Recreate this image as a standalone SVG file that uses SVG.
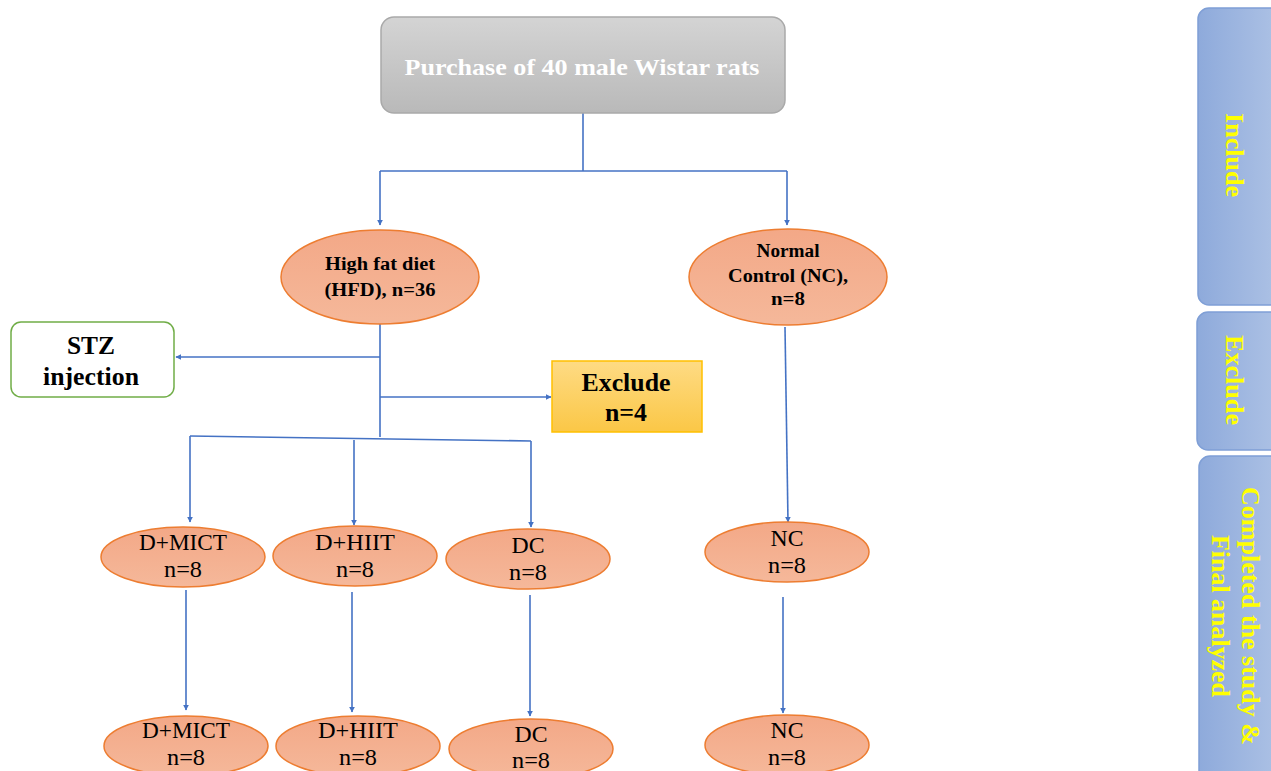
<svg xmlns="http://www.w3.org/2000/svg" width="1271" height="771" viewBox="0 0 1271 771">
<style>
.ell{fill:url(#og);stroke:#ed7d31;stroke-width:1.5}
.c{fill:none;stroke:#4472c4;stroke-width:1.6}
.t{font-family:"Liberation Serif","Times New Roman",serif;text-anchor:middle}
.b{font-weight:bold}
.side{fill:url(#bg);stroke:#7f9fd6;stroke-width:1.5}
.ys{fill:#ffff00;font-size:26px;font-weight:bold}
</style>
<defs>
<linearGradient id="gg" x1="0" y1="0" x2="0" y2="1"><stop offset="0" stop-color="#d4d4d4"/><stop offset="1" stop-color="#b9b9b9"/></linearGradient>
<linearGradient id="og" x1="0" y1="0" x2="0" y2="1"><stop offset="0" stop-color="#f3a887"/><stop offset="1" stop-color="#f5b89a"/></linearGradient>
<linearGradient id="yg" x1="0" y1="0" x2="0" y2="1"><stop offset="0" stop-color="#fedb84"/><stop offset="1" stop-color="#fbc746"/></linearGradient>
<linearGradient id="bg" x1="0" y1="0" x2="1" y2="0"><stop offset="0" stop-color="#8eaadb"/><stop offset="1" stop-color="#b4c7e7"/></linearGradient>
<marker id="a" viewBox="0 0 10 10" refX="9" refY="5" markerWidth="6" markerHeight="6" orient="auto" markerUnits="userSpaceOnUse"><path d="M0,0 L10,5 L0,10 z" fill="#4472c4"/></marker>
</defs>
<rect width="1271" height="771" fill="#ffffff"/>

<g id="connectors">
<path class="c" d="M583,113 V171"/>
<path class="c" d="M380,171 H787"/>
<path class="c" d="M380,171 V225" marker-end="url(#a)"/>
<path class="c" d="M787,171 V225" marker-end="url(#a)"/>
<path class="c" d="M380,324 V437"/>
<path class="c" d="M380,357 H176" marker-end="url(#a)"/>
<path class="c" d="M380,397 H551" marker-end="url(#a)"/>
<path class="c" d="M190,436 L531,441"/>
<path class="c" d="M190,436 V522" marker-end="url(#a)"/>
<path class="c" d="M354,440 V525" marker-end="url(#a)"/>
<path class="c" d="M531,441 V527" marker-end="url(#a)"/>
<path class="c" d="M785,327 L788,522" marker-end="url(#a)"/>
<path class="c" d="M186,590 V710" marker-end="url(#a)"/>
<path class="c" d="M352,592 V712" marker-end="url(#a)"/>
<path class="c" d="M530,595 V716" marker-end="url(#a)"/>
<path class="c" d="M783,597 V713" marker-end="url(#a)"/>
</g>

<g id="purchase">
<rect x="381" y="17" width="404" height="96" rx="13" fill="url(#gg)" stroke="#a9a9a9" stroke-width="1.5"/>
<text class="t b" x="582" y="75" font-size="24" fill="#ffffff" textLength="355" lengthAdjust="spacingAndGlyphs">Purchase of 40 male Wistar rats</text>
</g>

<g id="hfd">
<ellipse class="ell" cx="380" cy="277" rx="99" ry="47"/>
<text class="t b" x="380" y="270" font-size="18" textLength="110" lengthAdjust="spacingAndGlyphs">High fat diet</text>
<text class="t b" x="380" y="296" font-size="18" textLength="111" lengthAdjust="spacingAndGlyphs">(HFD), n=36</text>
</g>

<g id="nc-top">
<ellipse class="ell" cx="788" cy="277" rx="99" ry="48"/>
<text class="t b" x="788" y="257" font-size="18" textLength="63" lengthAdjust="spacingAndGlyphs">Normal</text>
<text class="t b" x="788" y="282" font-size="18" textLength="120" lengthAdjust="spacingAndGlyphs">Control (NC),</text>
<text class="t b" x="788" y="305" font-size="18" textLength="34" lengthAdjust="spacingAndGlyphs">n=8</text>
</g>

<g id="stz">
<rect x="11" y="322" width="163" height="75" rx="10" fill="#ffffff" stroke="#70ad47" stroke-width="1.5"/>
<text class="t b" x="91" y="354" font-size="25" textLength="48" lengthAdjust="spacingAndGlyphs">STZ</text>
<text class="t b" x="91" y="385" font-size="25" textLength="96" lengthAdjust="spacingAndGlyphs">injection</text>
</g>

<g id="exclude">
<rect x="552" y="361" width="150" height="71" fill="url(#yg)" stroke="#ffc000" stroke-width="1.5"/>
<text class="t b" x="626" y="391" font-size="25" textLength="89" lengthAdjust="spacingAndGlyphs">Exclude</text>
<text class="t b" x="626" y="421" font-size="25" textLength="42" lengthAdjust="spacingAndGlyphs">n=4</text>
</g>

<g id="dmict1">
<ellipse class="ell" cx="183" cy="557" rx="82" ry="30"/>
<text class="t" x="183" y="550" font-size="23" textLength="88" lengthAdjust="spacingAndGlyphs">D+MICT</text>
<text class="t" x="183" y="577" font-size="23" textLength="38" lengthAdjust="spacingAndGlyphs">n=8</text>
</g>
<g id="dhiit1">
<ellipse class="ell" cx="355" cy="556" rx="82" ry="30"/>
<text class="t" x="355" y="550" font-size="23" textLength="80" lengthAdjust="spacingAndGlyphs">D+HIIT</text>
<text class="t" x="355" y="577" font-size="23" textLength="38" lengthAdjust="spacingAndGlyphs">n=8</text>
</g>
<g id="dc1">
<ellipse class="ell" cx="528" cy="559" rx="82" ry="30"/>
<text class="t" x="528" y="553" font-size="23" textLength="33" lengthAdjust="spacingAndGlyphs">DC</text>
<text class="t" x="528" y="580" font-size="23" textLength="38" lengthAdjust="spacingAndGlyphs">n=8</text>
</g>
<g id="nc1">
<ellipse class="ell" cx="787" cy="552" rx="82" ry="30"/>
<text class="t" x="787" y="546" font-size="23" textLength="33" lengthAdjust="spacingAndGlyphs">NC</text>
<text class="t" x="787" y="573" font-size="23" textLength="38" lengthAdjust="spacingAndGlyphs">n=8</text>
</g>

<g id="dmict2">
<ellipse class="ell" cx="186" cy="746" rx="82" ry="30"/>
<text class="t" x="186" y="738" font-size="23" textLength="88" lengthAdjust="spacingAndGlyphs">D+MICT</text>
<text class="t" x="186" y="765" font-size="23" textLength="38" lengthAdjust="spacingAndGlyphs">n=8</text>
</g>
<g id="dhiit2">
<ellipse class="ell" cx="358" cy="746" rx="82" ry="30"/>
<text class="t" x="358" y="738" font-size="23" textLength="80" lengthAdjust="spacingAndGlyphs">D+HIIT</text>
<text class="t" x="358" y="765" font-size="23" textLength="38" lengthAdjust="spacingAndGlyphs">n=8</text>
</g>
<g id="dc2">
<ellipse class="ell" cx="531" cy="749" rx="82" ry="30"/>
<text class="t" x="531" y="742" font-size="23" textLength="33" lengthAdjust="spacingAndGlyphs">DC</text>
<text class="t" x="531" y="768" font-size="23" textLength="38" lengthAdjust="spacingAndGlyphs">n=8</text>
</g>
<g id="nc2">
<ellipse class="ell" cx="787" cy="745" rx="82" ry="30"/>
<text class="t" x="787" y="738" font-size="23" textLength="33" lengthAdjust="spacingAndGlyphs">NC</text>
<text class="t" x="787" y="765" font-size="23" textLength="38" lengthAdjust="spacingAndGlyphs">n=8</text>
</g>

<g id="side-include">
<rect class="side" x="1198" y="8" width="100" height="297" rx="11"/>
<text class="t ys" transform="translate(1226,155) rotate(90)" textLength="84" lengthAdjust="spacingAndGlyphs">Include</text>
</g>
<g id="side-exclude">
<rect class="side" x="1197" y="312" width="100" height="138" rx="11"/>
<text class="t ys" transform="translate(1226,380) rotate(90)" textLength="90" lengthAdjust="spacingAndGlyphs">Exclude</text>
</g>
<g id="side-completed">
<rect class="side" x="1199" y="456" width="100" height="330" rx="11"/>
<text class="t ys" transform="translate(1242,616) rotate(90)" textLength="258" lengthAdjust="spacingAndGlyphs">Completed the study  &amp;</text>
<text class="t ys" transform="translate(1212,616) rotate(90)" textLength="162" lengthAdjust="spacingAndGlyphs">Final analyzed</text>
</g>
</svg>
